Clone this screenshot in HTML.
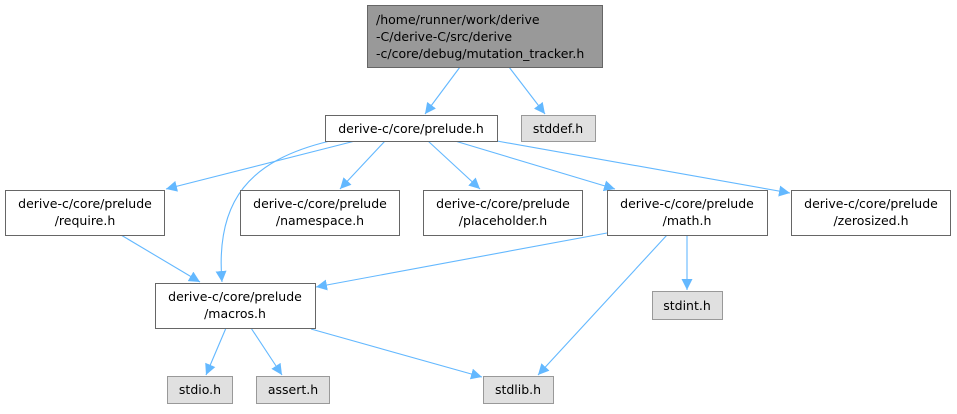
<!DOCTYPE html>
<html><head><meta charset="utf-8"><style>
html,body{margin:0;padding:0;background:#fff;}
svg text{font-family:"DejaVu Sans","Liberation Sans",sans-serif;font-size:12.5px;fill:#000;}
</style></head><body>
<svg width="957" height="409" viewBox="0 0 957 409" xmlns="http://www.w3.org/2000/svg">
<defs><marker id="a" viewBox="0 0 10 10" refX="10" refY="5" markerWidth="11" markerHeight="11" markerUnits="userSpaceOnUse" orient="auto"><path d="M0,0 L10,5 L0,10 z" fill="#63b8ff"/></marker></defs>
<g stroke="#63b8ff" stroke-width="1.1" fill="none" marker-end="url(#a)">
<line x1="460" y1="67" x2="425" y2="114"/>
<line x1="509" y1="67" x2="545" y2="114"/>
<line x1="355" y1="141" x2="166" y2="189"/>
<path d="M330,141 C250,160 215,200 222,282"/>
<line x1="385" y1="141" x2="340" y2="189"/>
<line x1="428" y1="141" x2="480" y2="189"/>
<line x1="455" y1="141" x2="615" y2="189"/>
<line x1="497" y1="141" x2="790" y2="193"/>
<line x1="121" y1="235" x2="200" y2="282"/>
<line x1="607" y1="233" x2="316" y2="287"/>
<line x1="667" y1="235" x2="538" y2="375"/>
<line x1="687" y1="235" x2="687" y2="290"/>
<line x1="226" y1="328" x2="206" y2="375"/>
<line x1="251" y1="328" x2="282" y2="375"/>
<line x1="311" y1="329" x2="482" y2="377"/>
</g>
<g stroke="#666" stroke-width="1" fill="#fff">
<rect x="367.5" y="5.5" width="235" height="62" fill="#999"/>
<rect x="325.5" y="115.5" width="172" height="26"/>
<rect x="5.5" y="190.5" width="159" height="45"/>
<rect x="240.5" y="190.5" width="159" height="45"/>
<rect x="423.5" y="190.5" width="159" height="45"/>
<rect x="607.5" y="190.5" width="160" height="45"/>
<rect x="791.5" y="190.5" width="159" height="45"/>
<rect x="155.5" y="283.5" width="160" height="45"/>
</g>
<g stroke="#999" stroke-width="1" fill="#e0e0e0">
<rect x="521.5" y="115.5" width="74" height="26"/>
<rect x="652.5" y="291.5" width="70" height="28"/>
<rect x="167.5" y="376.5" width="65" height="27"/>
<rect x="256.5" y="376.5" width="73" height="27"/>
<rect x="483.5" y="376.5" width="70" height="27"/>
</g>
<text x="376" y="24">/home/runner/work/derive</text>
<text x="376" y="41">-C/derive-C/src/derive</text>
<text x="376" y="58">-c/core/debug/mutation_tracker.h</text>
<g text-anchor="middle">
<text x="411" y="133">derive-c/core/prelude.h</text>
<text x="558" y="133">stddef.h</text>
<text x="85" y="208">derive-c/core/prelude</text><text x="85" y="225">/require.h</text>
<text x="320" y="208">derive-c/core/prelude</text><text x="320" y="225">/namespace.h</text>
<text x="503" y="208">derive-c/core/prelude</text><text x="503" y="225">/placeholder.h</text>
<text x="687" y="208">derive-c/core/prelude</text><text x="687" y="225">/math.h</text>
<text x="871" y="208">derive-c/core/prelude</text><text x="871" y="225">/zerosized.h</text>
<text x="235" y="301">derive-c/core/prelude</text><text x="235" y="318">/macros.h</text>
<text x="687" y="310">stdint.h</text>
<text x="200" y="394">stdio.h</text>
<text x="293" y="394">assert.h</text>
<text x="518" y="394">stdlib.h</text>
</g>
</svg>
</body></html>
